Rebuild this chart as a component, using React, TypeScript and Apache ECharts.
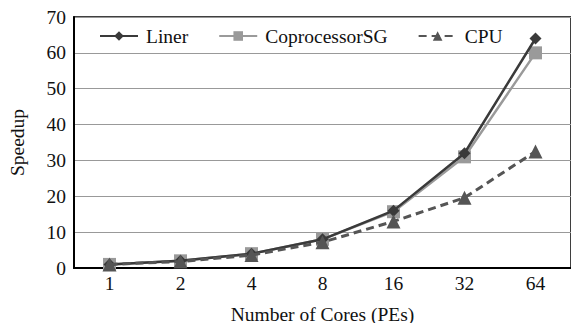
import React, { useEffect, useRef } from "react";
import * as echarts from "echarts";

const categories = ["1", "2", "4", "8", "16", "32", "64"];
const linerValues = [1, 2, 4, 8, 16, 32, 64];
const coprocessorValues = [1, 2, 4, 8, 15.7, 31, 60];
const cpuValues = [1, 1.8, 3.6, 7.2, 13, 19.6, 32.5];
const yTicks = { min: 0, max: 70, interval: 10 };

const FONT = "'Liberation Serif', 'DejaVu Serif', serif";
const FS = 19.5;

export default function App() {
  const ref = useRef<HTMLDivElement>(null);
  useEffect(() => {
    if (!ref.current) return;
    const chart = echarts.init(ref.current, undefined, { renderer: "svg" });
    chart.setOption({
      animation: false,
      backgroundColor: "#fff",
      textStyle: { fontFamily: FONT },
      grid: {
        left: 74,
        top: 17,
        right: 0,
        bottom: 55,
        show: true,
        borderColor: "#000",
        borderWidth: 1.5,
        outerBoundsMode: "none",
        containLabel: false,
      },
      legend: {
        left: 94,
        top: 21,
        itemWidth: 38,
        itemHeight: 12,
        itemGap: 30,
        textStyle: { fontFamily: FONT, fontSize: FS, color: "#111", padding: [0, 0, 0, 3] },
        data: ["Liner", "CoprocessorSG", "CPU"],
      },
      xAxis: {
        type: "category",
        data: categories,
        boundaryGap: true,
        name: "Number of Cores (PEs)",
        nameLocation: "middle",
        nameGap: 36,
        nameTextStyle: { fontFamily: FONT, fontSize: FS, color: "#111" },
        axisLine: { lineStyle: { color: "#000", width: 2 } },
        axisTick: { inside: true, length: 5, lineStyle: { color: "#000", width: 1.5 } },
        axisLabel: { fontFamily: FONT, fontSize: FS, color: "#111", margin: 5 },
        splitLine: { show: false },
      },
      yAxis: {
        type: "value",
        min: yTicks.min,
        max: yTicks.max,
        interval: yTicks.interval,
        name: "Speedup",
        nameLocation: "middle",
        nameGap: 47,
        nameTextStyle: { fontFamily: FONT, fontSize: FS, color: "#111" },
        axisLine: { show: true, lineStyle: { color: "#000", width: 2 } },
        axisTick: { show: false },
        axisLabel: { fontFamily: FONT, fontSize: FS, color: "#111", margin: 8 },
        splitLine: { lineStyle: { color: "#999", width: 1 } },
      },
      series: [
        {
          name: "Liner",
          type: "line",
          data: linerValues,
          symbol: "diamond",
          symbolSize: 12,
          itemStyle: { color: "#3a3a3a" },
          lineStyle: { color: "#3a3a3a", width: 2.5 },
          z: 3,
        },
        {
          name: "CoprocessorSG",
          type: "line",
          data: coprocessorValues,
          symbol: "rect",
          symbolSize: 13,
          itemStyle: { color: "#9a9a9a" },
          lineStyle: { color: "#9a9a9a", width: 2.5 },
          z: 2,
        },
        {
          name: "CPU",
          type: "line",
          data: cpuValues,
          symbol: "triangle",
          symbolSize: 14,
          itemStyle: { color: "#555" },
          lineStyle: { color: "#555", width: 3, type: [8, 5] },
          z: 4,
        },
      ],
    });
    return () => chart.dispose();
  }, []);
  return <div ref={ref} style={{ width: 571, height: 323, position: "absolute", left: 0, top: 0 }} />;
}
